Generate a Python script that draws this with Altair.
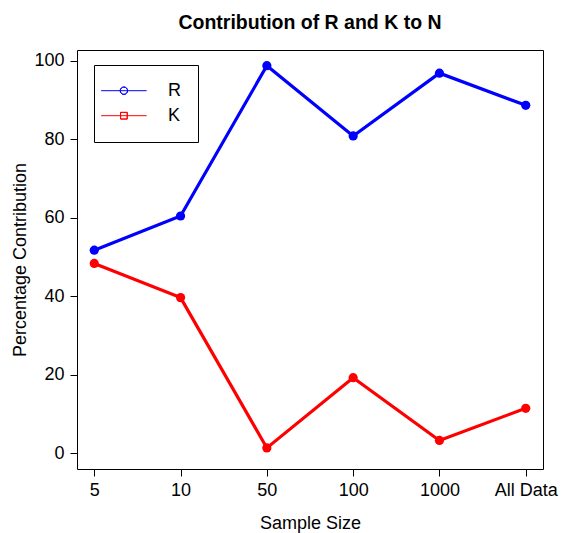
import altair as alt
import pandas as pd

# Sample-size categories and the share (%) of N attributed to R and K
sample_sizes = ["5", "10", "50", "100", "1000", "All Data"]
r_share = [51.7, 60.4, 98.7, 80.8, 96.8, 88.6]
k_share = [48.3, 39.6, 1.3, 19.2, 3.2, 11.4]
series_names = ["R", "K"]
series_colors = ["#0000FF", "#FF0000"]
y_ticks = [0, 20, 40, 60, 80, 100]

rows = []
for name, vals in zip(series_names, [r_share, k_share]):
    for size, val in zip(sample_sizes, vals):
        rows.append({"size": size, "series": name, "value": val})
df = pd.DataFrame(rows)

FONT = "Liberation Sans"

# Legend glyphs: a thin line crossed by an open circle / open square.
# Each outline is a hair-thin ring (outer and inner contour wound in
# opposite directions) so that any fill leaves the inside empty.
r_symbol = (
    "M-4.55,0H4.55"
    "M0.74,0A0.74,0.74,0,1,1,-0.74,0A0.74,0.74,0,1,1,0.74,0Z"
    "M0.73,0A0.73,0.73,0,1,0,-0.73,0A0.73,0.73,0,1,0,0.73,0Z"
)
k_symbol = (
    "M-4.55,0H4.55"
    "M-0.67,-0.67H0.67V0.67H-0.67Z"
    "M-0.66,-0.66V0.66H0.66V-0.66Z"
)

x_enc = alt.X(
    "size:N",
    sort=sample_sizes,
    scale=alt.Scale(type="point", padding=0.2),
    axis=alt.Axis(
        title="Sample Size", labelAngle=0, domain=False, grid=False,
        tickSize=7, tickColor="black", tickWidth=1,
        labelFont=FONT, labelFontSize=18, labelColor="black", labelPadding=5,
        titleFont=FONT, titleFontSize=18, titleFontWeight="normal",
        titleColor="black", titleBaseline="alphabetic", titleY=59,
    ),
)
y_enc = alt.Y(
    "value:Q",
    scale=alt.Scale(domain=[-4.07, 102.7], nice=False, zero=False),
    axis=alt.Axis(
        title="Percentage Contribution", values=y_ticks, domain=False, grid=False,
        tickSize=7, tickColor="black", tickWidth=1,
        labelFont=FONT, labelFontSize=18, labelColor="black", labelPadding=6,
        titleFont=FONT, titleFontSize=18, titleFontWeight="normal",
        titleColor="black", titleBaseline="alphabetic", titleAlign="center",
        titleAngle=270, titleX=-52, titleY=209.5,
    ),
)
color_scale = alt.Scale(domain=series_names, range=series_colors)

legend_def = alt.Legend(
    title=None, orient="none", legendX=17, legendY=15,
    strokeColor="black", fillColor="white", cornerRadius=0, padding=16.7,
    symbolSize=100, symbolStrokeWidth=1, symbolOffset=4.2,
    symbolFillColor="transparent", symbolOpacity=1,
    labelFont=FONT, labelFontSize=18, labelColor="black", labelOffset=35.1,
    rowPadding=7,
)
color_enc = alt.Color("series:N", scale=color_scale, legend=legend_def)

lines = alt.Chart(df).mark_line(strokeWidth=3.2).encode(
    x=x_enc, y=y_enc, color=color_enc,
)
dots = alt.Chart(df).mark_circle(size=85, opacity=1).encode(
    x=x_enc, y=y_enc,
    fill=alt.Fill("series:N", scale=color_scale, legend=None),
)
# Carries the legend glyphs; its own points are drawn fully transparent
key = alt.Chart(df).mark_point(
    filled=False, opacity=1, strokeWidth=1, strokeOpacity=0
).encode(
    x=x_enc, y=y_enc, color=color_enc,
    shape=alt.Shape(
        "series:N",
        scale=alt.Scale(domain=series_names, range=[r_symbol, k_symbol]),
        legend=legend_def,
    ),
)

chart = (
    alt.layer(lines, dots, key)
    .properties(
        width=466, height=419,
        background="white",
        title=alt.TitleParams(
            "Contribution of R and K to N", font=FONT, fontSize=19.5,
            fontWeight="bold", color="black", anchor="middle",
            baseline="alphabetic", offset=2,
        ),
        autosize=alt.AutoSizeParams(type="none"),
        padding={"left": 77, "top": 50, "right": 19, "bottom": 64},
    )
    .configure_view(stroke="black", strokeWidth=1)
)

chart.save("out.html", embed_options={"renderer": "svg", "actions": False})
